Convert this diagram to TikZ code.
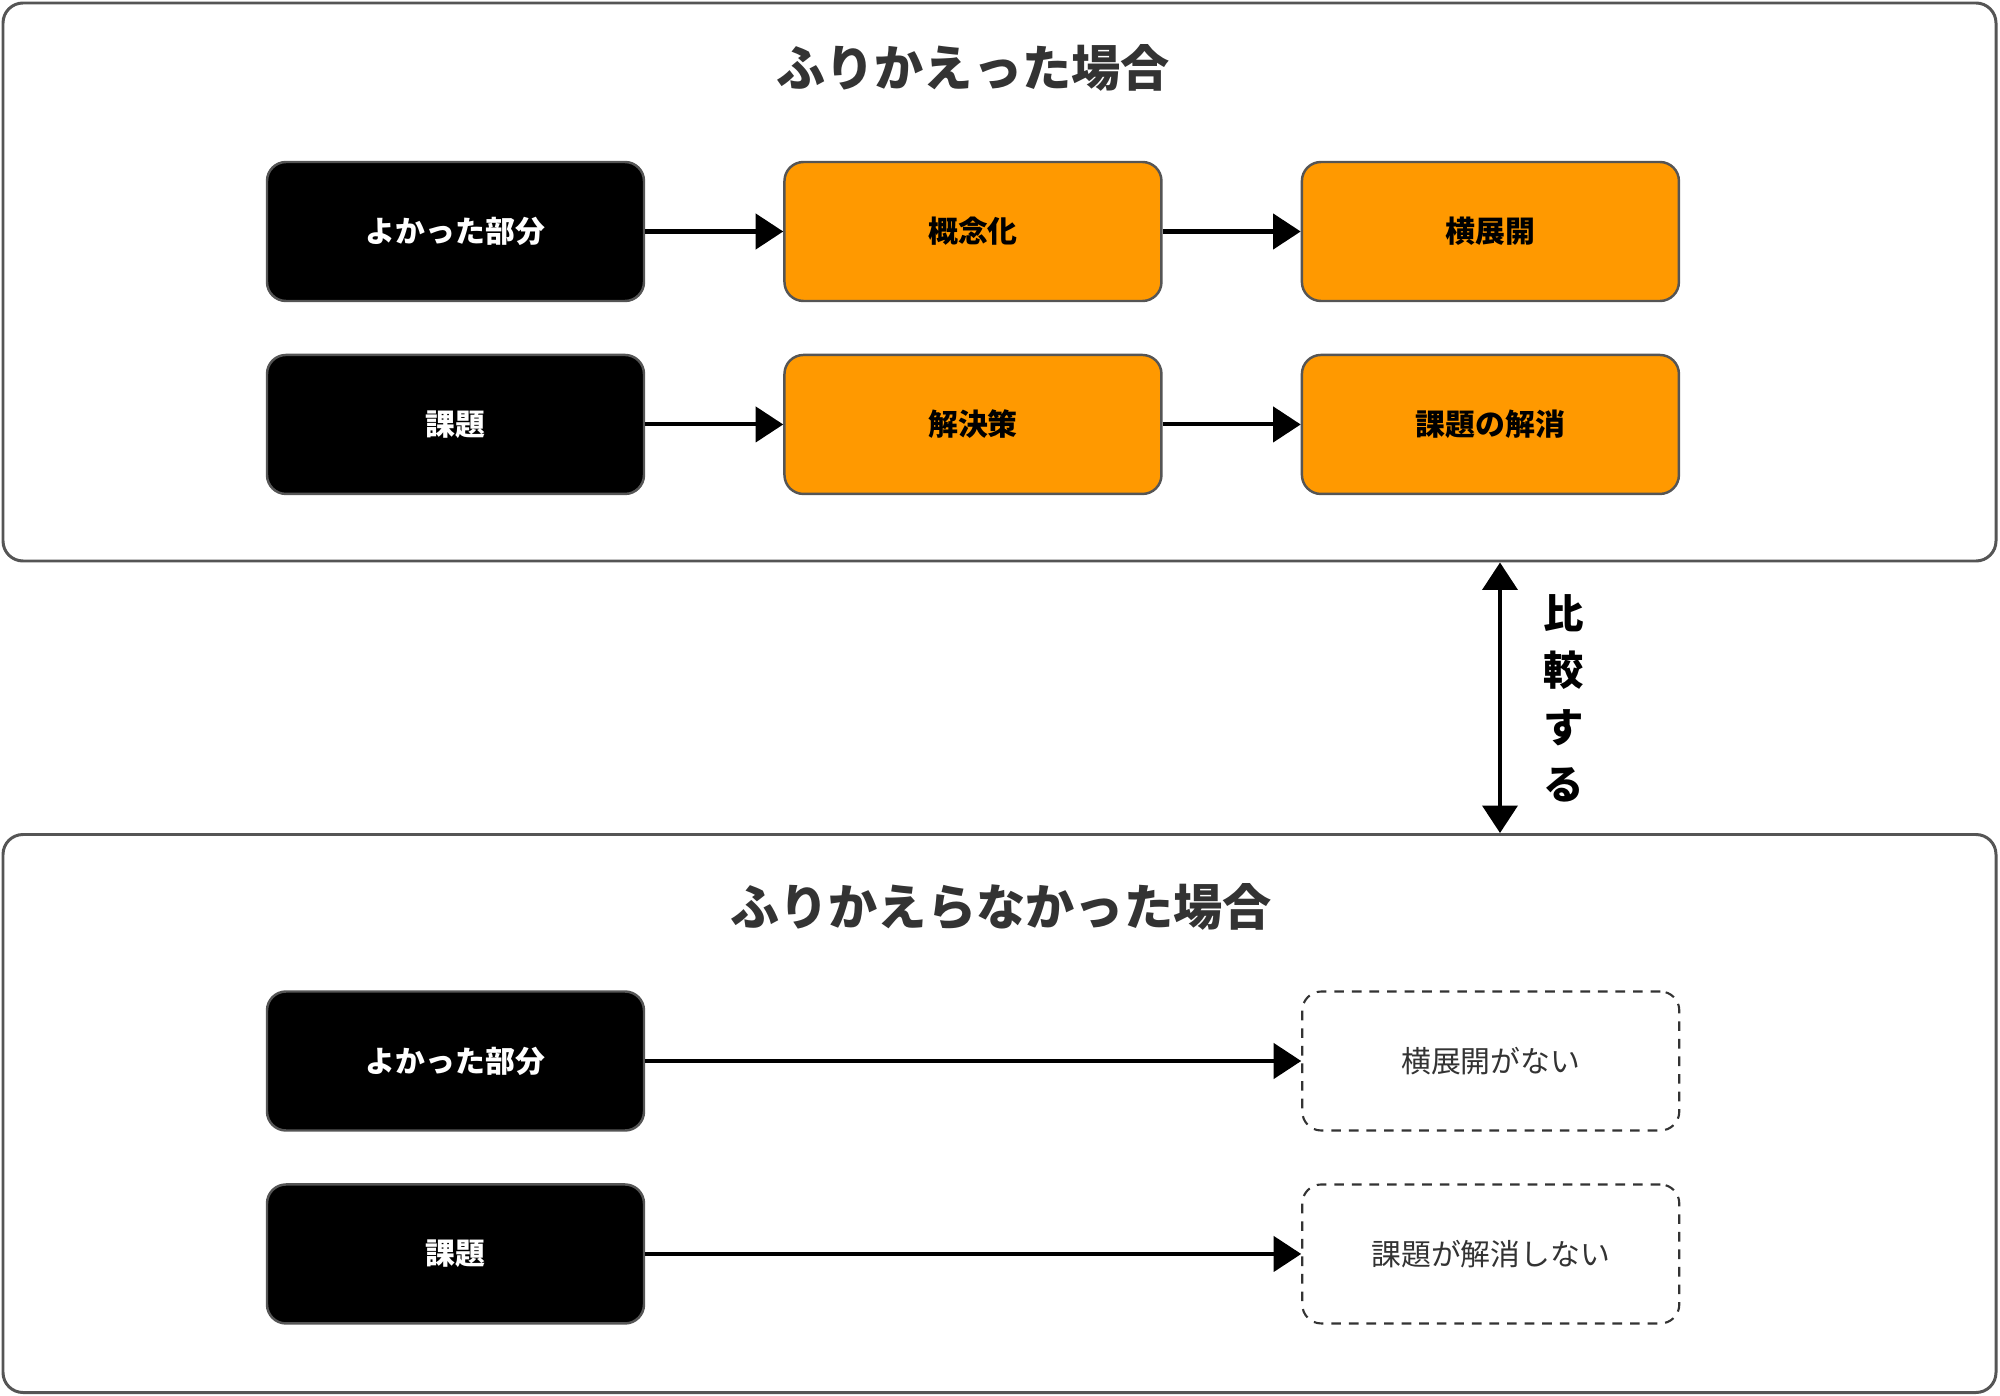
\documentclass[tikz,border=0pt]{standalone}
\usepackage{fontspec}
\setmainfont{Noto Sans CJK JP}
\usetikzlibrary{arrows.meta,positioning}

\definecolor{boxorange}{HTML}{FF9900}
\definecolor{edgegray}{HTML}{555555}
\definecolor{titlegray}{HTML}{333333}

\begin{document}
\begin{tikzpicture}[>={Triangle[length=0.55cm,width=0.7cm]}, node distance=1.03cm and 2.76cm,
  blacknode/.style={rectangle,rounded corners=0.38cm,draw=edgegray,line width=1.4pt,fill=black,text=white,font=\fontsize{17}{20}\selectfont\bfseries,minimum width=7.54cm,minimum height=2.78cm},
  orangenode/.style={blacknode,fill=boxorange,text=black},
  dashnode/.style={rectangle,rounded corners=0.38cm,draw=titlegray,line width=1.2pt,dash pattern=on 5.5pt off 4.5pt,text=titlegray,font=\fontsize{17}{20}\selectfont,minimum width=7.54cm,minimum height=2.78cm},
  groupbox/.style={rectangle,rounded corners=0.4cm,draw=edgegray,line width=1.7pt,minimum width=39.86cm,minimum height=11.16cm},
  grouptitle/.style={text=titlegray,font=\fontsize{28}{32}\selectfont\bfseries},
  flow/.style={line width=2.3pt}]

  \useasboundingbox (0,0) rectangle (40,-27.92);

  % the two cases
  \node[groupbox] (reflect) at (19.99,-5.64) {};
  \node[groupbox] (noreflect) at (19.99,-22.27) {};
  \node[grouptitle] (reflecttitle) at (19.46,-1.36) {ふりかえった場合};
  \node[grouptitle] (noreflecttitle) at (20.02,-18.14) {ふりかえらなかった場合};

  % with reflection
  \node[blacknode] (good) at (9.11,-4.63) {よかった部分};
  \node[orangenode] (concept) [right=of good] {概念化};
  \node[orangenode] (spread) [right=of concept] {横展開};
  \node[blacknode] (issue) [below=of good] {課題};
  \node[orangenode] (solution) [right=of issue] {解決策};
  \node[orangenode] (solved) [right=of solution] {課題の解消};

  \path[->,flow] (good) edge (concept);
  \path[->,flow] (concept) edge (spread);
  \path[->,flow] (issue) edge (solution);
  \path[->,flow] (solution) edge (solved);

  % without reflection
  \node[blacknode] (goodb) at (9.11,-21.22) {よかった部分};
  \node[dashnode] (nospread) [right=13.12cm of goodb] {横展開がない};
  \node[blacknode] (issueb) [below=of goodb] {課題};
  \node[dashnode] (unsolved) [right=13.12cm of issueb] {課題が解消しない};

  \path[->,flow] (goodb) edge (nospread);
  \path[->,flow] (issueb) edge (unsolved);

  % compare
  \coordinate (cmp) at (30,0);
  \draw[<->,flow] (reflect.south -| cmp) -- (noreflect.north -| cmp);
  \node[font=\fontsize{23}{32.4}\selectfont\bfseries,align=center] (cmplabel) at (31.28,-13.96) {比\\較\\す\\る};
\end{tikzpicture}
\end{document}
